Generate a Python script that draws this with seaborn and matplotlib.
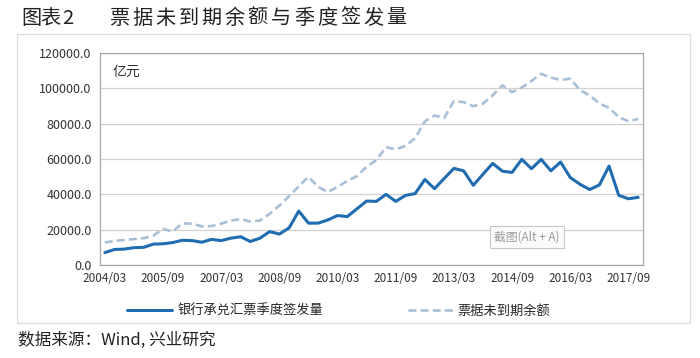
import matplotlib
matplotlib.use("Agg")
import matplotlib.pyplot as plt
import matplotlib.patches as mpatches
import numpy as np
import pandas as pd
import seaborn as sns

# quarterly, 2004/03 .. 2017/12
quarters = [f"{y}/{m:02d}" for y in range(2004, 2018) for m in (3, 6, 9, 12)]

issuance = [7000, 8800, 9000, 9800, 10000, 11800, 12000, 12700, 14000, 13800,
            12900, 14500, 13800, 15200, 16000, 13300, 15200, 18900, 17500, 21000,
            30500, 23700, 23700, 25500, 28000, 27400, 31800, 36200, 36000, 40000,
            36000, 39400, 40400, 48400, 43200, 49000, 54700, 53300, 45100, 51400,
            57500, 53100, 52400, 59800, 54500, 59800, 53300, 58300, 49500, 45700,
            42700, 45300, 56000, 39400, 37500, 38300]

balance = [12700, 13700, 14100, 14700, 15200, 16600, 20400, 19000, 23600, 23400,
           21900, 22000, 23400, 25100, 26000, 24600, 25100, 29000, 33700, 38900,
           44600, 49900, 44200, 41300, 44200, 47600, 50300, 55600, 59400, 66700,
           65500, 67400, 71800, 81300, 84600, 83300, 92800, 92200, 89900, 91400,
           96000, 101700, 97900, 100400, 104200, 108200, 106100, 104700, 105500, 99000,
           96000, 91400, 89000, 83800, 81300, 82700]

name_issue = "银行承兑汇票季度签发量"
name_bal = "票据未到期余额"
title = "票据未到期余额与季度签发量"

df = pd.DataFrame({"idx": range(len(quarters)), "q": quarters,
                   name_issue: issuance, name_bal: balance})

sns.set_style("white")
plt.rcParams['font.family'] = ['Noto Sans CJK SC', 'DejaVu Sans']
plt.rcParams['axes.unicode_minus'] = False

fig = plt.figure(figsize=(7, 3.58), dpi=100)
fig.patch.set_facecolor("white")

# outer light frame
fig.add_artist(mpatches.Rectangle((17/700, 1-323/358), (690-17)/700, (323-34)/358,
                                  transform=fig.transFigure, fill=False,
                                  edgecolor="#dcdcdc", linewidth=0.9))

ax = fig.add_axes([100/700, 1-265/358, 543/700, 212/358])

blue = "#1f6db0"
pale = "#a9bfd6"
sns.lineplot(data=df, x="idx", y=name_issue, ax=ax, color=blue, linewidth=2.2,
             label=name_issue)
sns.lineplot(data=df, x="idx", y=name_bal, ax=ax, color=pale, linewidth=1.9,
             linestyle=(0, (3, 1.6)), label=name_bal)

ax.set_xlim(-0.5, len(quarters) - 0.5)
ax.set_ylim(0, 120000)
ax.set_yticks(np.arange(0, 120001, 20000))
ax.set_yticklabels([f"{v:.1f}" for v in np.arange(0, 120001, 20000)])
ax.yaxis.grid(True, color="#d0d0d0", linewidth=0.9)
ax.set_xticks(range(0, len(quarters), 6))
ax.set_xticklabels(quarters[::6])
ax.set_xticks(np.arange(-0.5, len(quarters), 1), minor=True)
ax.tick_params(axis="x", which="major", length=0, pad=5, labelsize=8.5, colors="#333333")
ax.tick_params(axis="x", which="minor", length=4, color="#bdbdbd", width=0.8)
ax.tick_params(axis="y", length=0, pad=6, labelsize=9, colors="#333333")
for s in ax.spines.values():
    s.set_color("#a8a8a8")
    s.set_linewidth(0.9)
ax.set_xlabel("")
ax.set_ylabel("")
ax.text(13/543, 1-19/212, "亿元", transform=ax.transAxes, fontsize=10,
        color="#333333", va="center")

# screenshot tooltip left in the picture
ax.text(0.786, 0.132, "截图(Alt + A)", transform=ax.transAxes, fontsize=8.5,
        color="#9a9a9a", ha="center", va="center",
        bbox=dict(boxstyle="square,pad=0.35", fc="#fbfbfb", ec="#c8c8c8", lw=0.8))

ax.legend(loc="center", bbox_to_anchor=(0.44, -0.217), ncol=2, frameon=False,
          fontsize=9.5, handlelength=3.4, columnspacing=6.4, handletextpad=0.4)

fig.text(21/700, 1-18/358, "图表", fontsize=14.5, va="center", color="#222222")
fig.text(62/700, 1-18/358, "2", fontsize=14.5, va="center", color="#222222")
for i, ch in enumerate(title):
    fig.text((109 + 23.1 * i) / 700, 1-18/358, ch, fontsize=14.5, va="center",
             color="#222222")
fig.text(18/700, 1-340/358, "数据来源：Wind, 兴业研究", fontsize=12, style="italic",
         va="center", color="#222222")

fig.savefig("out.png", dpi=100, facecolor="white")
